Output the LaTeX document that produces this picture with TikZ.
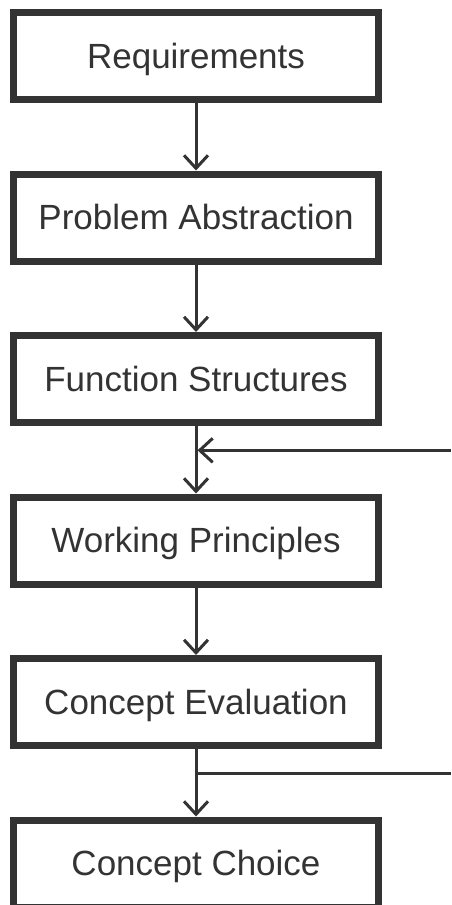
\documentclass[tikz,border=0pt]{standalone}
\usepackage{fontspec}
\setmainfont{Liberation Sans}
\usepackage{tikz}
\usetikzlibrary{positioning,arrows.meta,calc}
\definecolor{ink}{HTML}{333333}

\begin{document}
\begin{tikzpicture}[x=1pt,y=1pt,
  stage/.style={draw=ink, line width=7pt, minimum width=365pt, minimum height=87pt,
    inner sep=0pt, text=ink, font=\fontsize{35}{40}\selectfont, text height=30pt, text depth=6pt},
  flow/.style={draw=ink, line width=3pt, -{Straight Barb[length=13pt,width=24pt]}},
  tap/.style={draw=ink, line width=3pt},
  node distance=67.5pt]
  \useasboundingbox (0,0) rectangle (451,-905);
  \node[stage] (req) at (196,-56) {Requirements};
  \node[stage, below=of req] (abs) {Problem Abstraction};
  \node[stage, below=of abs] (fun) {Function Structures};
  \node[stage, below=of fun] (wp)  {Working Principles};
  \node[stage, below=of wp]  (eva) {Concept Evaluation};
  \node[stage, below=of eva] (cho) {Concept Choice};
  \coordinate (rim) at (451,0);
  \coordinate (feed) at ($(fun.south)!0.36!(wp.north)$);
  \coordinate (out)  at ($(eva.south)!0.36!(cho.north)$);
  \draw[flow] (req) -- (abs);
  \draw[flow] (abs) -- (fun);
  \draw[flow] (fun) -- (wp);
  \draw[flow] (wp)  -- (eva);
  \draw[flow] (eva) -- (cho);
  \draw[flow] (feed -| rim) -- ($(feed)+(1.5,0)$);
  \draw[tap]  (out) -- (out -| rim);
\end{tikzpicture}
\end{document}
